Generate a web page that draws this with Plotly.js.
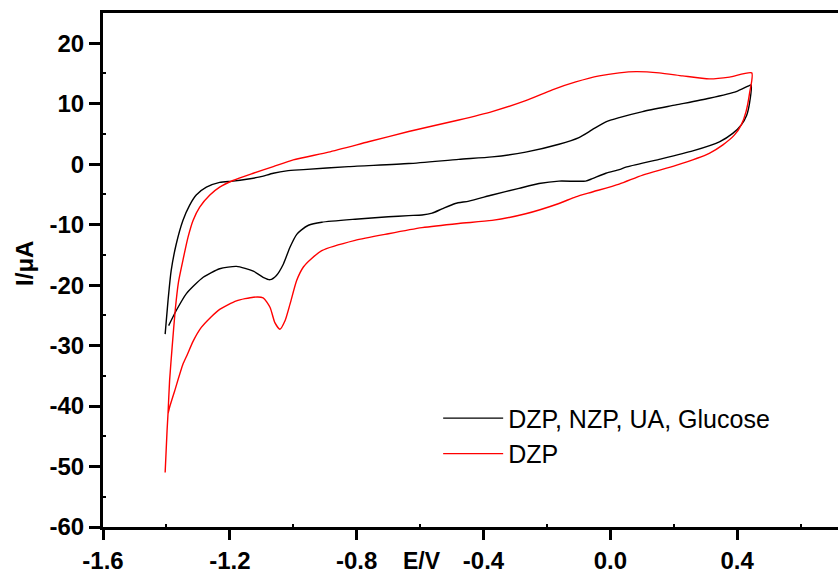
<!DOCTYPE html>
<html>
<head>
<meta charset="utf-8">
<script src="https://cdn.plot.ly/plotly-3.0.1.min.js"></script>
<style>html,body{margin:0;padding:0;background:#fff;}#chart{width:838px;height:576px;}</style>
</head>
<body>
<div id="chart"></div>
<script>
// Series 1: DZP, NZP, UA, Glucose (black)
var blackE = [-1.404,-1.395,-1.385,-1.369,-1.348,-1.327,-1.306,-1.274,-1.232,-1.190,-1.147,-1.105,-1.063,-1.021,-0.968,-0.826,-0.636,-0.478,-0.373,-0.267,-0.162,-0.099,-0.057,-0.014,0.028,0.102,0.207,0.312,0.397,0.434,0.444,
  0.439,0.430,0.413,0.386,0.344,0.260,0.154,0.049,0.028,-0.014,-0.057,-0.078,-0.162,-0.225,-0.288,-0.373,-0.446,-0.489,-0.531,-0.562,-0.594,-0.636,-0.700,-0.805,-0.910,-0.952,-0.975,-0.989,-1.010,-1.031,-1.053,-1.073,-1.095,-1.126,-1.179,-1.232,-1.284,-1.337,-1.369,-1.393];
var blackI = [-28.1,-22.6,-17.6,-13.2,-9.3,-6.8,-5.1,-3.8,-3.0,-2.8,-2.5,-2.1,-1.5,-1.1,-0.9,-0.4,0.1,0.8,1.2,2.0,3.3,4.4,5.7,7.0,7.7,8.7,9.8,10.9,12.0,12.9,13.1,
  10.1,8.1,6.5,5.1,3.7,2.2,0.8,-0.5,-0.9,-1.5,-2.4,-2.8,-2.8,-3.2,-4.0,-5.1,-6.1,-6.5,-7.4,-8.1,-8.4,-8.5,-8.7,-9.1,-9.6,-10.1,-10.9,-11.6,-13.7,-16.5,-18.4,-19.1,-18.7,-17.7,-16.9,-17.3,-18.7,-21.4,-24.2,-26.7];

// Series 2: DZP (red)
var redE = [-1.404,-1.398,-1.395,-1.390,-1.382,-1.372,-1.362,-1.348,-1.332,-1.316,-1.295,-1.263,-1.232,-1.190,-1.126,-1.063,-1.000,-0.889,-0.763,-0.636,-0.478,-0.373,-0.267,-0.183,-0.109,-0.035,0.028,0.081,0.154,0.228,0.312,0.376,0.446,
  0.439,0.428,0.413,0.391,0.355,0.312,0.207,0.102,0.028,-0.057,-0.109,-0.162,-0.267,-0.373,-0.478,-0.594,-0.700,-0.805,-0.910,-0.942,-0.968,-0.989,-1.010,-1.026,-1.042,-1.058,-1.073,-1.095,-1.126,-1.179,-1.232,-1.260,-1.290,-1.316,-1.335,-1.348,-1.374,-1.390,-1.395];
var redI = [-51.0,-44.1,-41.3,-35.8,-30.3,-24.0,-19.5,-15.9,-12.1,-9.3,-7.1,-5.1,-3.8,-2.7,-1.5,-0.4,0.7,2.0,3.7,5.4,7.3,8.7,10.5,12.3,13.6,14.6,15.1,15.3,15.1,14.6,14.1,14.4,15.1,
  11.7,8.7,6.5,4.8,3.2,1.8,-0.2,-1.8,-3.3,-4.6,-5.4,-6.5,-8.2,-9.3,-9.8,-10.5,-11.5,-12.6,-14.3,-15.6,-17.0,-19.2,-23.1,-25.9,-27.3,-26.2,-23.7,-22.1,-22.0,-22.6,-24.0,-25.3,-27.0,-29.3,-31.6,-33.1,-37.5,-40.2,-41.3];

var seriesNames = ["DZP, NZP, UA, Glucose", "DZP"];
var xTickVals = [-1.6, -1.2, -0.8, -0.4, 0.0, 0.4];
var xTickText = ["-1.6", "-1.2", "-0.8", "-0.4", "0.0", "0.4"];
var xMinorVals = [-1.4, -1.0, -0.6, -0.2, 0.2, 0.6];
var yTickVals = [-60, -50, -40, -30, -20, -10, 0, 10, 20];
var yTickText = ["-60", "-50", "-40", "-30", "-20", "-10", "0", "10", "20"];
var yMinorVals = [-55, -45, -35, -25, -15, -5, 5, 15];
var xTitle = "E/V";
var yTitle = "I/μA";

var FONT = "Liberation Sans, Arial, Helvetica, sans-serif";

var traces = [
  {x: blackE, y: blackI, type: "scatter", mode: "lines", name: seriesNames[0],
   line: {color: "#000000", width: 1.4, shape: "spline", smoothing: 0.6}},
  {x: redE, y: redI, type: "scatter", mode: "lines", name: seriesNames[1],
   line: {color: "#ff0000", width: 1.4, shape: "spline", smoothing: 0.6}}
];

var tickFont = {family: FONT, size: 24, color: "#000", weight: "bold"};

var layout = {
  width: 838, height: 576,
  margin: {l: 103, r: 0, t: 13, b: 49, pad: 0},
  paper_bgcolor: "#fff", plot_bgcolor: "#fff",
  showlegend: true,
  legend: {x: 0.456, y: 0.256, xanchor: "left", yanchor: "top",
           font: {family: FONT, size: 25, color: "#000"}, bgcolor: "rgba(0,0,0,0)",
           itemwidth: 60, tracegroupgap: 0},
  xaxis: {range: [-1.6, 0.718], tickmode: "array", tickvals: xTickVals, ticktext: xTickText,
          ticks: "outside", ticklen: 10, tickwidth: 3, tickcolor: "#000",
          showline: true, linewidth: 3, linecolor: "#000", mirror: true,
          showgrid: false, zeroline: false, tickfont: tickFont,
          minor: {tickvals: xMinorVals, ticks: "inside", ticklen: 3, tickwidth: 2, tickcolor: "#000", showgrid: false}},
  yaxis: {range: [-60, 25], tickmode: "array", tickvals: yTickVals, ticktext: yTickText,
          ticks: "outside", ticklen: 11, tickwidth: 3, tickcolor: "#000",
          showline: true, linewidth: 3, linecolor: "#000", mirror: false,
          showgrid: false, zeroline: false, tickfont: tickFont,
          minor: {tickvals: yMinorVals, ticks: "inside", ticklen: 3, tickwidth: 2, tickcolor: "#000", showgrid: false}},
  annotations: [
    {text: yTitle, xref: "paper", yref: "paper", x: -0.106, y: 0.512, textangle: -90,
     xanchor: "center", yanchor: "middle", showarrow: false,
     font: {family: FONT, size: 24, color: "#000", weight: "bold"}},
    {text: xTitle, xref: "paper", yref: "paper", x: 0.434, y: -0.067,
     xanchor: "center", yanchor: "middle", showarrow: false,
     font: {family: FONT, size: 23, color: "#000", weight: "bold"}}
  ]
};

Plotly.newPlot("chart", traces, layout, {displayModeBar: false, staticPlot: true});
</script>
</body>
</html>
